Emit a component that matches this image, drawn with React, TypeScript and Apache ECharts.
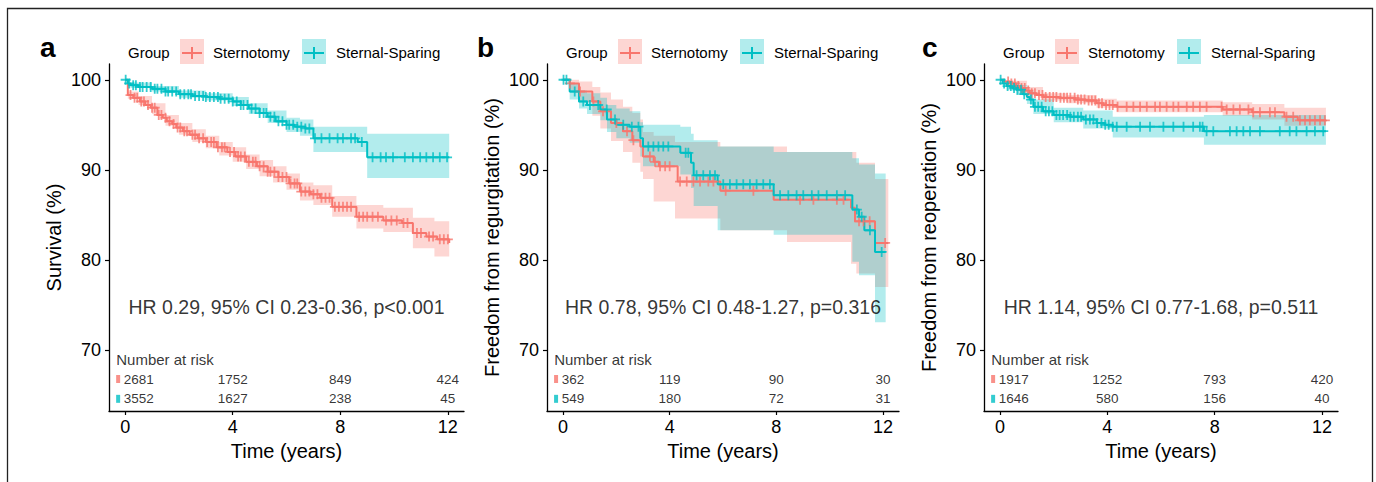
import React, { useEffect, useRef } from "react";
import * as echarts from "echarts";

const FONT = "'Liberation Sans', Arial, Helvetica, sans-serif";
const RED = "#F8766D";
const CYAN = "#00BFC4";
const RED_BAND = "rgba(248,118,109,0.3)";
const CYAN_BAND = "rgba(0,191,196,0.3)";

const groups = ["Sternotomy", "Sternal-Sparing"];
const panelLetters = ["a", "b", "c"];
const yTitles = ["Survival (%)", "Freedom from regurgitation (%)", "Freedom from reoperation (%)"];
const xTitle = "Time (years)";
const hrTexts = [
  "HR 0.29, 95% CI 0.23-0.36, p<0.001",
  "HR 0.78, 95% CI 0.48-1.27, p=0.316",
  "HR 1.14, 95% CI 0.77-1.68, p=0.511",
];
const xTicks = [0, 4, 8, 12];
const yTicks = [70, 80, 90, 100];
const riskTimes = [0, 4, 8, 12];
const riskTitle = "Number at risk";

// ---------- Panel a: survival ----------
const aRedT = [0, 0.1, 0.3, 0.55, 0.75, 0.95, 1.2, 1.4, 1.55, 1.75, 1.9, 2.15, 2.4, 2.7, 3.0, 3.4, 3.8, 4.1, 4.5, 4.9, 5.3, 5.7, 6.1, 6.5, 6.9, 7.25, 7.7, 8.6, 9.6, 10.3, 10.7, 11.2, 11.6, 12.05];
const aRedS = [100, 98.3, 98.0, 97.6, 97.2, 96.9, 96.1, 95.8, 95.4, 95.1, 94.7, 94.3, 93.9, 93.5, 93.1, 92.5, 92.0, 91.5, 90.9, 90.4, 89.8, 89.2, 88.5, 87.6, 87.3, 86.9, 85.9, 84.8, 84.4, 84.1, 83.0, 82.6, 82.3, 81.9];
const aRedCiT = [0, 0.1, 0.5, 1, 1.5, 2, 2.5, 3, 3.5, 4, 4.5, 5, 5.5, 6, 6.5, 7, 7.7, 8.6, 9.6, 10.7, 11.5, 12.05];
const aRedLo = [100, 97.9, 97.2, 96.2, 94.9, 93.9, 93.1, 92.4, 91.6, 90.9, 90.1, 89.3, 88.6, 87.8, 86.6, 86.1, 84.8, 83.5, 83.1, 81.3, 80.4, 80.4];
const aRedHi = [100, 98.7, 98.2, 97.4, 96.1, 95.2, 94.5, 93.8, 93.1, 92.5, 91.7, 91.1, 90.4, 89.6, 88.6, 88.3, 87.1, 86.1, 85.8, 84.7, 84.3, 84.3];
const aRedCens = [0.2, 0.35, 0.45, 0.6, 0.7, 0.85, 1.0, 1.1, 1.25, 1.35, 1.5, 1.65, 1.8, 1.95, 2.05, 2.2, 2.3, 2.5, 2.6, 2.75, 2.9, 3.05, 3.2, 3.3, 3.45, 3.6, 3.7, 3.9, 4.05, 4.2, 4.3, 4.45, 4.6, 4.75, 4.85, 5.0, 5.15, 5.3, 5.4, 5.55, 5.7, 5.85, 6.0, 6.15, 6.3, 6.4, 6.55, 6.7, 6.85, 7.0, 7.15, 7.3, 7.45, 7.6, 7.8, 7.95, 8.1, 8.25, 8.4, 8.7, 8.85, 9.0, 9.2, 9.4, 9.7, 9.9, 10.1, 10.35, 10.5, 10.85, 11.0, 11.3, 11.45, 11.7, 11.85, 12.0];

const aCyanT = [0, 0.1, 0.2, 0.5, 1.0, 1.5, 2.0, 2.5, 3.0, 3.5, 4.0, 4.3, 4.6, 5.0, 5.3, 5.6, 6.0, 6.3, 6.7, 7.0, 8.65, 9.0, 12.05];
const aCyanS = [100, 99.6, 99.4, 99.2, 99.0, 98.7, 98.4, 98.2, 98.1, 97.9, 97.6, 97.2, 96.8, 96.3, 95.9, 95.4, 95.0, 94.8, 94.6, 93.5, 93.1, 91.4, 91.4];
const aCyanCiT = [0, 0.2, 1, 2, 3, 4, 4.6, 5.3, 6.0, 6.5, 7.0, 9.0, 12.05];
const aCyanLo = [100, 99.1, 98.7, 98.0, 97.7, 97.1, 96.2, 95.2, 94.2, 93.8, 92.0, 89.1, 89.1];
const aCyanHi = [100, 99.7, 99.3, 98.8, 98.5, 98.1, 97.4, 96.6, 95.8, 95.6, 94.8, 94.0, 94.0];
const aCyanCens = [0.02, 0.15, 0.3, 0.4, 0.55, 0.65, 0.8, 0.95, 1.1, 1.2, 1.35, 1.5, 1.6, 1.75, 1.9, 2.05, 2.2, 2.35, 2.45, 2.6, 2.75, 2.9, 3.0, 3.15, 3.3, 3.45, 3.55, 3.7, 3.85, 4.0, 4.15, 4.3, 4.4, 4.55, 4.7, 4.85, 5.0, 5.15, 5.25, 5.4, 5.55, 5.7, 5.85, 6.0, 6.1, 6.25, 6.4, 6.55, 6.7, 6.85, 7.06, 7.3, 7.6, 7.9, 8.1, 8.4, 8.55, 8.8, 9.2, 9.5, 9.7, 9.96, 10.4, 10.7, 10.97, 11.2, 11.45, 11.7, 11.97];
const aRiskRed = [2681, 1752, 849, 424];
const aRiskCyan = [3552, 1627, 238, 45];

// ---------- Panel b: freedom from regurgitation ----------
const bRedT = [0, 0.25, 0.6, 1.1, 1.4, 1.8, 2.25, 2.6, 2.9, 3.0, 3.4, 3.6, 4.3, 5.9, 7.9, 10.8, 10.95, 11.7, 12.2];
const bRedS = [100, 99.6, 98.7, 97.6, 96.5, 95.2, 94.3, 93.3, 92.6, 91.5, 90.9, 90.4, 88.7, 87.7, 86.7, 85.8, 84.3, 81.9, 81.9];
const bRedCiT = [0, 0.3, 0.6, 1.1, 1.4, 1.8, 2.25, 2.6, 2.9, 3.0, 3.4, 4.2, 5.9, 8.4, 10.8, 11.0, 11.7, 12.2];
const bRedLo = [100, 98.8, 97.6, 96.0, 94.6, 93.2, 92.0, 90.8, 89.8, 89.0, 86.5, 84.6, 83.3, 82.0, 79.6, 78.5, 77.0, 77.0];
const bRedHi = [100, 100, 99.8, 99.2, 98.6, 97.8, 97.0, 96.3, 95.6, 94.2, 93.8, 93.1, 92.6, 92.0, 92.0, 90.8, 89.0, 89.0];
const bRedCens = [0.26, 0.64, 1.14, 1.5, 2.0, 2.4, 2.64, 3.26, 3.45, 3.64, 3.83, 4.0, 4.39, 4.64, 4.89, 5.14, 5.45, 5.64, 6.1, 7.14, 8.89, 9.39, 10.27, 10.52, 11.1, 11.27, 11.5, 12.08];

const bCyanT = [0, 0.25, 0.6, 0.9, 1.4, 1.65, 2.0, 2.5, 2.9, 3.0, 4.4, 4.8, 4.9, 5.8, 7.9, 10.85, 11.1, 11.3, 11.7, 12.1];
const bCyanS = [100, 98.7, 97.6, 97.2, 96.7, 95.6, 95.0, 94.8, 93.5, 92.6, 91.9, 90.8, 89.4, 88.4, 87.2, 85.6, 84.8, 83.3, 80.9, 80.9];
const bCyanCiT = [0, 0.25, 0.6, 0.9, 1.4, 1.65, 2.0, 2.5, 2.9, 3.0, 4.4, 4.8, 4.9, 5.8, 7.9, 10.85, 11.1, 11.7, 12.1];
const bCyanLo = [100, 97.8, 96.8, 96.2, 95.5, 94.2, 93.5, 93.0, 91.5, 90.4, 89.5, 88.0, 86.0, 83.3, 82.8, 79.8, 78.3, 73.1, 73.1];
const bCyanHi = [100, 99.6, 98.8, 98.5, 98.0, 97.2, 96.8, 96.5, 95.3, 95.0, 94.8, 94.0, 93.3, 92.6, 92.0, 91.3, 90.6, 89.6, 89.6];
const bCyanCens = [0.02, 0.13, 0.44, 0.76, 1.01, 1.32, 1.64, 1.95, 2.26, 2.58, 2.83, 3.2, 3.39, 3.58, 3.76, 3.95, 4.6, 4.7, 5.01, 5.26, 5.51, 5.7, 6.01, 6.26, 6.51, 6.76, 7.01, 7.26, 7.51, 7.76, 8.14, 8.45, 8.76, 9.01, 9.33, 9.58, 9.89, 10.27, 10.58, 11.02, 11.2, 11.51, 11.95];
const bRiskRed = [362, 119, 90, 30];
const bRiskCyan = [549, 180, 72, 31];

// ---------- Panel c: freedom from reoperation ----------
const cRedT = [0, 0.15, 0.37, 0.6, 0.75, 0.95, 1.1, 1.35, 1.6, 2.2, 2.8, 3.2, 3.6, 3.85, 4.35, 8.3, 9.4, 10.6, 11.1, 12.15];
const cRedS = [100, 99.8, 99.6, 99.3, 99.1, 98.8, 98.5, 98.3, 98.1, 98.0, 97.8, 97.7, 97.4, 97.2, 97.0, 96.7, 96.4, 95.9, 95.5, 95.4];
const cRedCiT = [0, 0.4, 1.0, 1.6, 2.5, 3.6, 4.35, 8.3, 9.4, 10.6, 12.15];
const cRedLo = [100, 99.3, 98.4, 97.7, 97.4, 96.9, 96.4, 96.0, 95.6, 94.9, 94.9];
const cRedHi = [100, 99.9, 99.2, 98.5, 98.3, 97.9, 97.7, 97.5, 97.3, 96.9, 96.9];
const cRedCens = [0.3, 0.42, 0.55, 0.68, 0.8, 0.92, 1.05, 1.18, 1.3, 1.45, 1.58, 1.7, 1.85, 1.98, 2.1, 2.25, 2.38, 2.5, 2.62, 2.78, 2.9, 3.02, 3.15, 3.3, 3.42, 3.55, 3.68, 3.8, 3.95, 4.08, 4.2, 4.38, 4.72, 4.97, 5.22, 5.47, 5.78, 5.96, 6.21, 6.46, 6.65, 6.96, 7.2, 7.45, 7.7, 8.26, 8.45, 8.7, 8.94, 9.26, 9.44, 9.69, 10.06, 10.25, 10.68, 10.93, 11.18, 11.37, 11.55, 11.74, 11.93, 12.11];

const cCyanT = [0, 0.1, 0.25, 0.45, 0.6, 0.85, 1.0, 1.1, 1.24, 1.6, 2.0, 2.6, 3.1, 3.6, 3.9, 4.2, 7.6, 12.15];
const cCyanS = [100, 99.6, 99.3, 99.1, 98.9, 98.4, 98.1, 97.8, 97.0, 96.5, 96.1, 95.9, 95.6, 95.2, 95.0, 94.8, 94.3, 94.3];
const cCyanCiT = [0, 0.25, 0.6, 1.0, 1.24, 2.0, 3.1, 4.2, 7.6, 12.15];
const cCyanLo = [100, 98.9, 98.3, 97.3, 96.2, 95.3, 94.6, 93.6, 92.8, 92.8];
const cCyanHi = [100, 99.7, 99.4, 98.8, 97.8, 96.9, 96.6, 95.9, 96.1, 96.1];
const cCyanCens = [0.02, 0.15, 0.28, 0.4, 0.52, 0.65, 0.78, 0.9, 1.15, 1.3, 1.42, 1.55, 1.7, 1.82, 1.95, 2.1, 2.22, 2.35, 2.5, 2.62, 2.75, 2.9, 3.02, 3.2, 3.35, 3.48, 3.62, 3.78, 3.92, 4.05, 4.2, 4.35, 4.72, 5.22, 5.59, 6.09, 6.46, 6.84, 7.2, 7.45, 7.55, 7.7, 7.95, 8.57, 8.82, 9.07, 9.32, 9.69, 10.43, 10.8, 11.05, 11.43, 11.74, 12.05];
const cRiskRed = [1917, 1252, 793, 420];
const cRiskCyan = [1646, 580, 156, 40];

// ---------- layout (pixels) ----------
const GRID_LEFT = [109, 547, 984];
const GRID_WIDTH = [355, 352, 354];
const GRID_TOP = 64;
const GRID_HEIGHT = 347;
const LETTER_X = [40, 477, 922];
const PLUS = "path://M4.1,0H5.9V4.1H10V5.9H5.9V10H4.1V5.9H0V4.1H4.1Z";

type Curve = { T: number[]; S: number[]; ciT: number[]; lo: number[]; hi: number[]; cens: number[]; risk: number[] };

const panels: { red: Curve; cyan: Curve }[] = [
  {
    red: { T: aRedT, S: aRedS, ciT: aRedCiT, lo: aRedLo, hi: aRedHi, cens: aRedCens, risk: aRiskRed },
    cyan: { T: aCyanT, S: aCyanS, ciT: aCyanCiT, lo: aCyanLo, hi: aCyanHi, cens: aCyanCens, risk: aRiskCyan },
  },
  {
    red: { T: bRedT, S: bRedS, ciT: bRedCiT, lo: bRedLo, hi: bRedHi, cens: bRedCens, risk: bRiskRed },
    cyan: { T: bCyanT, S: bCyanS, ciT: bCyanCiT, lo: bCyanLo, hi: bCyanHi, cens: bCyanCens, risk: bRiskCyan },
  },
  {
    red: { T: cRedT, S: cRedS, ciT: cRedCiT, lo: cRedLo, hi: cRedHi, cens: cRedCens, risk: cRiskRed },
    cyan: { T: cCyanT, S: cCyanS, ciT: cCyanCiT, lo: cCyanLo, hi: cCyanHi, cens: cCyanCens, risk: cRiskCyan },
  },
];

const survAt = (T: number[], S: number[], t: number) => {
  let v = S[0];
  for (let i = 0; i < T.length; i++) if (T[i] <= t) v = S[i];
  return v;
};

function bandSeries(p: number, c: Curve, fill: string) {
  return {
    type: "custom",
    xAxisIndex: p,
    yAxisIndex: p,
    silent: true,
    clip: true,
    z: 1,
    data: [[6, 80]],
    renderItem: (_params: any, api: any) => {
      const up: number[][] = [];
      const dn: number[][] = [];
      for (let i = 0; i < c.ciT.length; i++) {
        const t1 = i + 1 < c.ciT.length ? c.ciT[i + 1] : c.ciT[i];
        up.push(api.coord([c.ciT[i], c.hi[i]]), api.coord([t1, c.hi[i]]));
        dn.push(api.coord([c.ciT[i], c.lo[i]]), api.coord([t1, c.lo[i]]));
      }
      return {
        type: "polygon",
        shape: { points: up.concat(dn.reverse()) },
        style: { fill, stroke: null, lineWidth: 0 },
      };
    },
  };
}

function lineSeries(p: number, c: Curve, color: string, name: string) {
  return {
    type: "line",
    name,
    xAxisIndex: p,
    yAxisIndex: p,
    step: "end",
    showSymbol: false,
    symbol: "none",
    silent: true,
    z: 3,
    lineStyle: { color, width: 2 },
    itemStyle: { color },
    data: c.T.map((t, i) => [t, c.S[i]]),
  };
}

function censorSeries(p: number, c: Curve, color: string) {
  return {
    type: "scatter",
    xAxisIndex: p,
    yAxisIndex: p,
    symbol: PLUS,
    symbolSize: 10,
    silent: true,
    z: 4,
    itemStyle: { color },
    data: c.cens.map((t) => [t, survAt(c.T, c.S, t)]),
  };
}

function annotationSeries(p: number) {
  const pan = panels[p];
  const items: any[] = [];
  items.push({
    value: [6, 74.8],
    label: { formatter: hrTexts[p], fontSize: 19.5, align: "center" },
  });
  items.push({
    value: [-0.33, 69.0],
    label: { formatter: riskTitle, fontSize: 15, align: "left" },
  });
  const rows = [
    { y: 66.8, c: pan.red },
    { y: 64.6, c: pan.cyan },
  ];
  rows.forEach((r) => {
    r.c.risk.forEach((n, i) => {
      items.push({
        value: [i === 0 ? -0.05 : riskTimes[i], r.y],
        label: { formatter: String(n), fontSize: 13.5, align: i === 0 ? "left" : "center" },
      });
    });
  });
  return {
    type: "scatter",
    xAxisIndex: p,
    yAxisIndex: p,
    symbolSize: 0,
    silent: true,
    z: 5,
    itemStyle: { color: "#000" },
    label: {
      show: true,
      position: "inside",
      color: "#000",
      fontFamily: FONT,
      verticalAlign: "middle",
      textBorderWidth: 0,
      textBorderColor: "transparent",
    },
    data: items,
  };
}

function riskKeySeries(p: number) {
  return {
    type: "scatter",
    xAxisIndex: p,
    yAxisIndex: p,
    symbol: "rect",
    symbolSize: [4, 8],
    silent: true,
    z: 5,
    data: [
      { value: [-0.26, 66.8], itemStyle: { color: RED } },
      { value: [-0.26, 64.6], itemStyle: { color: CYAN } },
    ],
  };
}

function legendGraphics(p: number) {
  const L = GRID_LEFT[p];
  const cy = 52;
  const els: any[] = [];
  els.push({
    type: "text",
    x: LETTER_X[p],
    y: 47,
    style: { text: panelLetters[p], fontSize: 28, fontWeight: "bold", fontFamily: FONT, fill: "#000", align: "left", verticalAlign: "middle" },
  });
  els.push({
    type: "text",
    x: L + 19,
    y: cy,
    style: { text: "Group", fontSize: 15, fontFamily: FONT, fill: "#000", align: "left", verticalAlign: "middle" },
  });
  const keys = [
    { kx: L + 71, tx: L + 104, color: RED, band: RED_BAND, label: groups[0] },
    { kx: L + 193, tx: L + 227, color: CYAN, band: CYAN_BAND, label: groups[1] },
  ];
  keys.forEach((k) => {
    els.push({ type: "rect", shape: { x: k.kx, y: cy - 13, width: 24, height: 25 }, style: { fill: k.band } });
    els.push({ type: "line", shape: { x1: k.kx + 2, y1: cy + 1, x2: k.kx + 22, y2: cy + 1 }, style: { stroke: k.color, lineWidth: 2 } });
    els.push({ type: "line", shape: { x1: k.kx + 12, y1: cy - 5, x2: k.kx + 12, y2: cy + 7 }, style: { stroke: k.color, lineWidth: 2 } });
    els.push({
      type: "text",
      x: k.tx,
      y: cy,
      style: { text: k.label, fontSize: 15, fontFamily: FONT, fill: "#000", align: "left", verticalAlign: "middle" },
    });
  });
  return els;
}

export default function App() {
  const ref = useRef<HTMLDivElement>(null);
  useEffect(() => {
    if (!ref.current) return;
    const chart = echarts.init(ref.current, undefined, { renderer: "svg" });
    const axisLine = { show: true, onZero: false, lineStyle: { color: "#000", width: 1.3 } };
    const grids = [0, 1, 2].map((p) => ({ left: GRID_LEFT[p], top: GRID_TOP, width: GRID_WIDTH[p], height: GRID_HEIGHT }));
    const xAxes = [0, 1, 2].map((p) => ({
      gridIndex: p,
      type: "value",
      min: -0.6,
      max: 12.6,
      axisLine,
      axisTick: { show: true, length: 4, customValues: xTicks, lineStyle: { color: "#000", width: 1.2 } },
      axisLabel: { customValues: xTicks, fontSize: 18, color: "#000", margin: 7, fontFamily: FONT },
      splitLine: { show: false },
      name: xTitle,
      nameLocation: "middle",
      nameGap: 30,
      nameTextStyle: { fontSize: 20, color: "#000", fontFamily: FONT },
    }));
    const yAxes = [0, 1, 2].map((p) => ({
      gridIndex: p,
      type: "value",
      min: 63.25,
      max: 101.75,
      axisLine,
      axisTick: { show: true, length: 4, customValues: yTicks, lineStyle: { color: "#000", width: 1.2 } },
      axisLabel: { customValues: yTicks, fontSize: 18, color: "#000", margin: 8, fontFamily: FONT },
      splitLine: { show: false },
      name: yTitles[p],
      nameLocation: "middle",
      nameRotate: 90,
      nameGap: 45,
      nameTextStyle: { fontSize: 20, color: "#000", fontFamily: FONT },
    }));
    const series: any[] = [];
    panels.forEach((pan, p) => {
      series.push(bandSeries(p, pan.red, RED_BAND));
      series.push(bandSeries(p, pan.cyan, CYAN_BAND));
      series.push(lineSeries(p, pan.red, RED, groups[0]));
      series.push(lineSeries(p, pan.cyan, CYAN, groups[1]));
      series.push(censorSeries(p, pan.red, RED));
      series.push(censorSeries(p, pan.cyan, CYAN));
      series.push(annotationSeries(p));
      series.push(riskKeySeries(p));
    });
    const graphic: any[] = [
      {
        type: "rect",
        shape: { x: 7.5, y: 8.5, width: 1365, height: 490 },
        style: { fill: "none", stroke: "#222", lineWidth: 1.3 },
        silent: true,
      },
    ];
    [0, 1, 2].forEach((p) => graphic.push(...legendGraphics(p)));
    chart.setOption({
      animation: false,
      backgroundColor: "#fff",
      textStyle: { fontFamily: FONT },
      grid: grids,
      xAxis: xAxes,
      yAxis: yAxes,
      series,
      graphic,
    });
    return () => chart.dispose();
  }, []);
  return (
    <div
      ref={ref}
      style={{ position: "fixed", left: 0, top: 0, width: 1376, height: 482, background: "#fff" }}
    />
  );
}
